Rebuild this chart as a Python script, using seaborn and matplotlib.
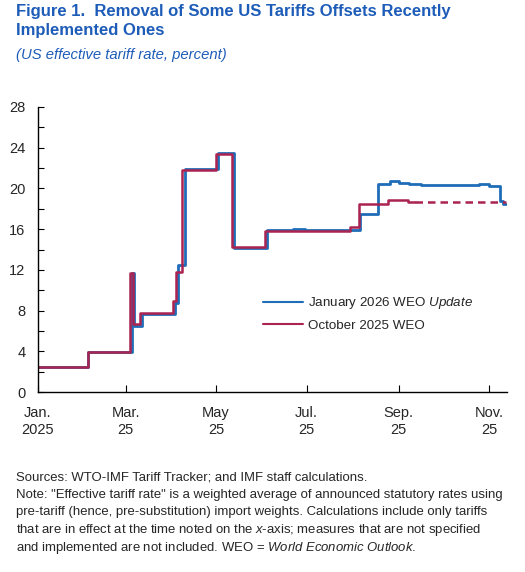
import pandas as pd
import matplotlib
matplotlib.use('Agg')
import matplotlib.pyplot as plt
from matplotlib.ticker import MultipleLocator
import seaborn as sns

# January 2026 WEO Update (step changes, date -> rate)
jan26_dates = ['2025-01-01', '2025-02-04', '2025-03-05', '2025-03-07', '2025-03-12',
               '2025-04-03', '2025-04-05', '2025-04-10', '2025-05-02', '2025-05-13',
               '2025-06-04', '2025-06-22', '2025-06-30', '2025-08-06', '2025-08-18',
               '2025-08-26', '2025-09-01', '2025-09-08', '2025-09-16', '2025-10-10',
               '2025-10-25', '2025-11-01', '2025-11-08', '2025-11-10', '2025-11-12']
jan26_vals = [2.5, 3.9, 11.7, 6.5, 7.65,
              8.7, 12.5, 21.9, 23.5, 14.1,
              15.9, 16.0, 15.9, 17.45, 20.4,
              20.75, 20.55, 20.4, 20.3, 20.35,
              20.4, 20.2, 18.8, 18.5, 18.5]

# October 2025 WEO (solid part)
oct25_dates = ['2025-01-01', '2025-02-04', '2025-03-04', '2025-03-06', '2025-03-11',
               '2025-04-02', '2025-04-04', '2025-04-08', '2025-05-01', '2025-05-12',
               '2025-06-03', '2025-07-30', '2025-08-05', '2025-08-25', '2025-09-07',
               '2025-09-12']
oct25_vals = [2.5, 3.9, 11.7, 6.7, 7.8,
              8.9, 11.8, 21.8, 23.4, 14.2,
              15.85, 16.2, 18.5, 18.9, 18.7,
              18.7]

# October 2025 WEO (dashed assumption)
oct25_proj_dates = ['2025-09-12', '2025-11-12']
oct25_proj_vals = [18.7, 18.7]

x_ticks = ['2025-01-01', '2025-03-01', '2025-05-01', '2025-07-01', '2025-09-01', '2025-11-01']
x_labels = ['Jan.\n2025', 'Mar.\n25', 'May\n25', 'Jul.\n25', 'Sep.\n25', 'Nov.\n25']

note_lines = [
    'Sources: WTO-IMF Tariff Tracker; and IMF staff calculations.',
    'Note: "Effective tariff rate" is a weighted average of announced statutory rates using',
    'pre-tariff (hence, pre-substitution) import weights. Calculations include only tariffs',
    r'that are in effect at the time noted on the $\it{x}$-axis; measures that are not specified',
    r'and implemented are not included. WEO = $\it{World\ Economic\ Outlook}$.',
]

blue = '#1f6db8'
red = '#ab2350'
title_blue = '#1d5cb8'

sns.set_style('white')
plt.rcParams['font.family'] = ['Liberation Sans', 'DejaVu Sans']
plt.rcParams['mathtext.fontset'] = 'custom'
plt.rcParams['mathtext.rm'] = 'Liberation Sans'
plt.rcParams['mathtext.it'] = 'Liberation Sans:italic'

fig = plt.figure(figsize=(5.25, 5.72), dpi=100)
ax = fig.add_axes([38 / 525, 1 - 392 / 572, 469 / 525, 285 / 572])

df_jan = pd.DataFrame({'date': pd.to_datetime(jan26_dates), 'rate': jan26_vals})
df_oct = pd.DataFrame({'date': pd.to_datetime(oct25_dates), 'rate': oct25_vals})
df_proj = pd.DataFrame({'date': pd.to_datetime(oct25_proj_dates), 'rate': oct25_proj_vals})

sns.lineplot(data=df_jan, x='date', y='rate', ax=ax, color=blue, lw=2.0,
             drawstyle='steps-post', label=r'January 2026 WEO $\it{Update}$')
sns.lineplot(data=df_oct, x='date', y='rate', ax=ax, color=red, lw=1.8,
             drawstyle='steps-post', label='October 2025 WEO')
sns.lineplot(data=df_proj, x='date', y='rate', ax=ax, color=red, lw=1.8,
             linestyle=(0, (3, 2)), legend=False)

ax.set_xlim(pd.Timestamp('2025-01-01'), pd.Timestamp('2025-11-13'))
ax.set_ylim(0, 28)
ax.yaxis.set_major_locator(MultipleLocator(4))
ax.yaxis.set_minor_locator(MultipleLocator(2))
ax.set_xticks(pd.to_datetime(x_ticks))
ax.set_xticklabels(x_labels, linespacing=1.25)
ax.set_xlabel('')
ax.set_ylabel('')

for s in ['top', 'right']:
    ax.spines[s].set_visible(False)
for s in ['left', 'bottom']:
    ax.spines[s].set_color('black')
    ax.spines[s].set_linewidth(1.0)

ax.tick_params(axis='y', which='both', direction='in', length=4, width=0.8,
               color='black', labelsize=10.5, pad=9, left=True)
ax.tick_params(axis='x', which='major', direction='in', length=5, width=0.8,
               color='black', labelsize=10.5, pad=10, bottom=True)

leg = ax.legend(loc='center left', bbox_to_anchor=(0.48, 0.275), frameon=False,
                fontsize=9.6, handlelength=3.0, handletextpad=0.38, labelspacing=0.6,
                borderaxespad=0, borderpad=0)
for h in leg.get_lines():
    h.set_linewidth(1.5)

fig.text(16 / 525, 1 - 4 / 572, 'Figure 1.  Removal of Some US Tariffs Offsets Recently\nImplemented Ones',
         fontsize=12, fontweight='bold', color=title_blue, va='top', ha='left', linespacing=1.3)
fig.text(16 / 525, 1 - 48 / 572, '(US effective tariff rate, percent)',
         fontsize=10.7, style='italic', color=title_blue, va='top', ha='left')

for i, line in enumerate(note_lines):
    fig.text(16 / 525, 1 - (480.5 + 17.5 * i) / 572, line, fontsize=9.45,
             va='baseline', ha='left')

fig.savefig('out.png', dpi=100)
